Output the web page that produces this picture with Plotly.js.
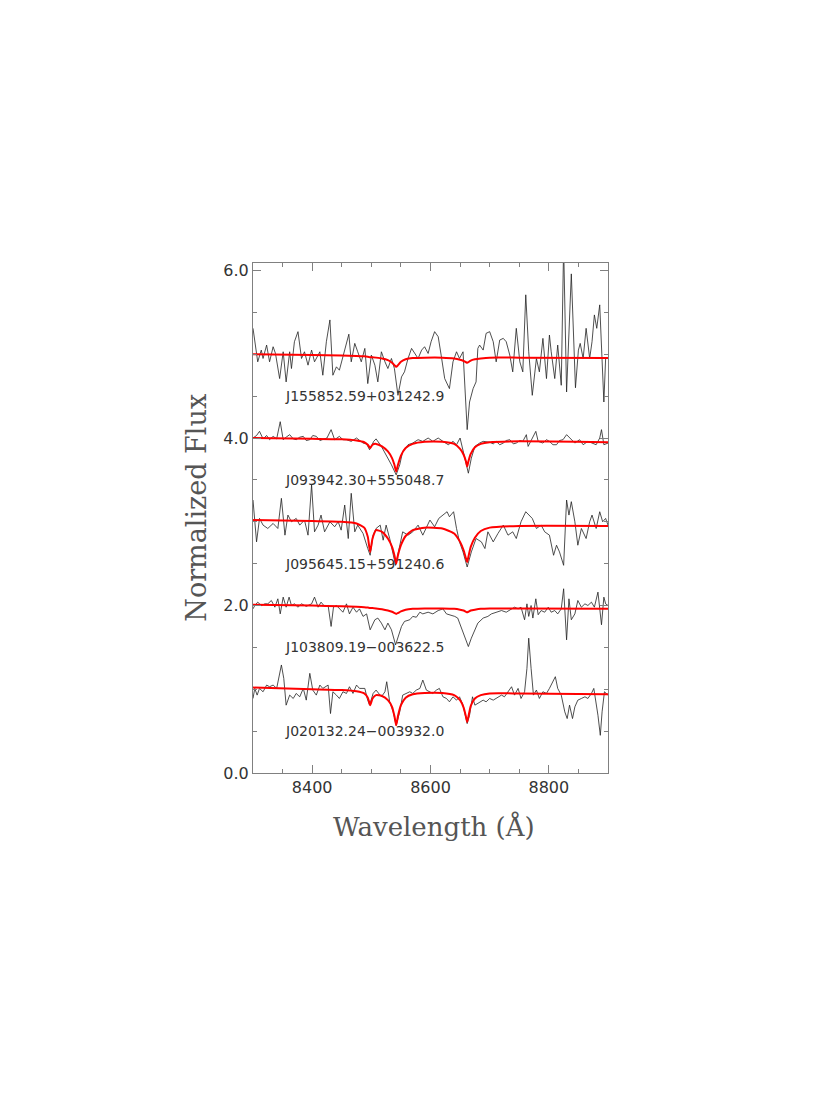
<!DOCTYPE html>
<html>
<head>
<meta charset="utf-8">
<script src="https://cdn.plot.ly/plotly-3.0.1.min.js"></script>
<style>
  html, body { margin: 0; padding: 0; background: #fff; }
  #chart { width: 830px; height: 1106px; }
</style>
</head>
<body>
<div id="chart"></div>
<script>
// ---------- DATA ----------
const starNames = [
  "J155852.59+031242.9",
  "J093942.30+555048.7",
  "J095645.15+591240.6",
  "J103809.19\u2212003622.5",
  "J020132.24\u2212003932.0"
];
const offsets = [5, 4, 3, 2, 1];

// observed spectra (wavelength in Å, normalized flux + offset)
const wave1 = [8300,8303,8308,8314,8317,8323,8328,8334,8338,8345,8351,8356,8362,8365,8370,8376,8382,8387,8393,8399,8404,8413,8418,8424,8430,8435,8441,8446,8452,8458,8462,8466,8472,8477,8483,8489,8494,8500,8506,8511,8517,8523,8528,8534,8539,8545,8551,8556,8562,8568,8573,8579,8585,8590,8596,8601,8607,8613,8618,8624,8632,8638,8644,8649,8655,8662,8666,8672,8677,8680,8683,8689,8694,8700,8706,8711,8717,8723,8728,8734,8739,8745,8751,8756,8761,8766,8772,8779,8784,8790,8796,8801,8804,8810,8815,8821,8825,8830,8838,8845,8850,8853,8858,8863,8869,8873,8877,8881,8886,8889,8893,8896,8900];
const flux1 = [5.31,5.15,4.91,5.05,4.95,5.11,4.91,5.09,5.01,4.71,5.03,4.67,5.03,4.83,5.15,5.27,4.95,5.03,4.87,5.05,4.91,5.03,4.75,5.15,5.41,4.75,4.85,4.81,4.97,5.11,5.24,4.91,5.13,5.03,4.91,5.07,4.65,4.99,4.87,4.67,5.03,4.91,4.83,4.95,4.83,4.51,4.73,4.79,4.95,5.07,5.01,4.95,5.05,5.09,5.01,5.15,5.27,5.21,4.99,4.71,4.59,4.91,5.03,4.95,5.03,4.10,4.43,4.59,4.67,5.07,5.11,5.05,5.25,5.27,5.15,4.91,5.17,5.19,5.15,4.99,4.79,5.31,4.91,4.79,5.71,5.03,4.51,4.95,4.79,5.19,4.71,5.23,5.03,4.71,5.11,4.63,6.30,4.55,5.96,4.60,5.05,5.13,4.95,5.31,4.95,5.15,5.47,5.31,5.59,5.07,4.43,4.95,4.95];

const wave2 = [8300,8306,8311,8317,8323,8328,8334,8340,8346,8351,8356,8362,8368,8373,8379,8385,8390,8396,8401,8407,8413,8418,8425,8432,8438,8446,8452,8458,8466,8475,8480,8486,8492,8497,8504,8508,8517,8525,8534,8542,8548,8553,8562,8570,8579,8587,8596,8604,8613,8621,8630,8638,8644,8650,8655,8661,8664,8669,8675,8683,8689,8700,8706,8711,8717,8723,8728,8734,8740,8745,8751,8756,8762,8765,8772,8778,8782,8790,8796,8801,8807,8813,8818,8824,8830,8835,8844,8852,8858,8866,8875,8880,8886,8889,8893,8900];
const flux2 = [4.00,4.03,4.08,3.99,4.03,3.98,4.02,3.99,4.195,3.98,4.01,4.04,3.99,3.98,4.01,4.02,3.97,3.98,4.03,4.02,3.97,3.98,4.00,4.10,3.98,4.02,3.98,3.98,3.96,4.00,3.97,3.94,3.93,3.86,3.96,3.99,3.90,3.80,3.68,3.56,3.68,3.84,3.92,3.94,3.98,3.96,4.00,3.96,4.00,3.96,3.92,3.96,3.92,4.00,3.84,3.68,3.58,3.76,3.90,3.94,3.96,3.95,3.93,3.96,3.92,3.94,3.97,3.98,3.93,3.94,3.97,3.96,4.04,3.90,4.00,4.08,3.96,3.94,3.98,3.96,3.92,3.92,3.97,3.98,4.04,4.00,3.94,3.98,3.92,3.96,3.94,3.92,4.00,4.10,3.92,3.94];

const wave3 = [8300,8306,8311,8317,8325,8334,8342,8348,8354,8359,8365,8373,8379,8387,8393,8399,8404,8410,8415,8421,8430,8438,8444,8449,8455,8461,8466,8472,8477,8486,8494,8498,8503,8508,8515,8520,8525,8531,8541,8548,8553,8562,8570,8579,8587,8599,8607,8614,8621,8628,8632,8639,8644,8649,8655,8662,8669,8677,8686,8692,8697,8706,8714,8723,8731,8739,8745,8753,8761,8766,8772,8779,8787,8793,8801,8808,8813,8818,8825,8830,8834,8838,8844,8849,8855,8863,8869,8873,8880,8886,8891,8896,8900];
const flux3 = [3.26,2.76,3.04,2.96,2.92,2.98,2.92,3.28,2.84,3.08,3.00,3.04,2.96,3.02,2.84,3.44,2.88,2.96,3.08,2.88,3.00,2.94,3.00,2.90,3.20,2.80,3.34,2.88,2.96,2.86,2.68,2.60,2.84,2.92,2.96,2.78,2.96,2.80,2.48,2.72,2.88,2.84,2.88,2.96,2.84,3.02,2.94,3.04,3.08,3.12,3.06,3.12,2.92,2.76,2.64,2.46,2.64,2.80,2.76,2.68,2.88,2.76,2.86,2.96,2.84,2.88,2.80,3.00,3.12,3.08,3.04,2.92,2.96,2.88,2.84,2.60,2.72,2.64,2.48,3.26,3.08,3.24,3.00,2.72,2.92,2.80,3.00,3.08,2.92,3.12,3.00,3.04,2.96];

const wave4 = [8300,8303,8308,8314,8320,8325,8331,8337,8342,8346,8351,8356,8361,8365,8370,8376,8382,8390,8399,8404,8410,8415,8421,8427,8432,8436,8441,8446,8452,8458,8463,8469,8475,8480,8486,8492,8498,8506,8511,8517,8523,8528,8534,8541,8545,8551,8556,8565,8570,8576,8582,8587,8596,8604,8613,8621,8627,8632,8641,8646,8653,8659,8664,8669,8675,8680,8689,8697,8703,8711,8720,8728,8737,8742,8748,8753,8759,8763,8766,8770,8773,8778,8782,8787,8793,8799,8804,8810,8815,8821,8825,8830,8834,8838,8844,8849,8855,8861,8866,8872,8877,8883,8889,8893,8896,8900];
const flux4 = [1.96,2.00,2.04,2.00,2.02,2.02,2.06,1.98,2.08,1.90,2.10,1.98,2.10,2.00,2.02,1.98,2.02,1.99,2.02,2.10,1.98,2.04,1.99,2.00,1.75,1.98,2.00,1.96,1.92,2.02,1.90,1.98,1.92,1.96,1.87,1.90,1.71,1.83,1.85,1.79,1.71,1.79,1.71,1.53,1.63,1.75,1.81,1.83,1.87,1.86,1.92,1.90,1.92,1.90,1.94,1.96,1.90,1.89,1.87,1.85,1.71,1.59,1.51,1.61,1.71,1.79,1.85,1.87,1.90,1.92,1.94,1.92,1.96,1.98,1.96,1.98,1.83,2.02,1.87,2.00,1.85,2.08,1.89,1.94,1.92,1.98,1.92,1.94,1.90,1.96,2.20,1.59,2.08,1.83,1.90,2.06,1.98,2.02,2.00,2.04,1.98,2.16,1.77,2.10,2.02,2.00];

const wave5 = [8300,8303,8307,8311,8317,8323,8328,8334,8340,8344,8348,8352,8356,8362,8368,8373,8379,8385,8390,8396,8401,8407,8413,8418,8427,8431,8435,8441,8446,8452,8458,8463,8469,8475,8480,8489,8493,8497,8503,8508,8517,8523,8526,8531,8537,8542,8548,8553,8559,8565,8570,8576,8582,8587,8593,8599,8604,8610,8615,8621,8627,8632,8638,8644,8649,8655,8662,8666,8671,8675,8680,8689,8694,8700,8706,8711,8720,8725,8731,8737,8742,8748,8753,8759,8763,8766,8770,8774,8779,8784,8790,8796,8801,8807,8811,8815,8821,8827,8831,8835,8840,8844,8849,8855,8861,8866,8872,8876,8880,8883,8887,8890,8894,8900];
const flux5 = [0.89,1.01,0.93,1.01,0.97,1.05,1.03,1.05,1.01,1.17,1.29,1.13,0.81,0.93,0.89,0.95,0.91,1.01,0.87,1.19,0.99,0.93,1.05,1.01,1.05,0.71,0.97,0.93,0.89,0.97,0.95,1.03,0.95,1.05,1.01,1.01,0.89,0.81,0.95,0.99,0.91,0.97,1.09,0.85,0.73,0.57,0.73,0.93,0.95,0.97,0.95,0.99,1.01,1.11,0.99,0.97,0.95,0.99,1.01,0.91,0.89,0.85,0.91,0.87,0.91,0.81,0.59,0.69,0.91,0.81,0.83,0.87,0.85,0.89,0.87,0.89,0.93,0.91,0.97,1.03,0.93,1.01,0.89,0.97,1.25,1.61,1.25,0.93,0.99,0.89,0.97,0.95,1.01,1.09,1.15,1.01,0.93,0.73,0.65,0.81,0.65,0.79,0.87,0.89,0.91,0.89,0.95,1.01,0.85,0.69,0.45,0.73,0.97,0.93];

// model fits (red)
const modelWave = [8300,8400,8450,8475,8488,8494,8498,8502,8508,8518,8528,8535,8539,8542,8545,8550,8558,8570,8590,8620,8640,8650,8656,8660,8662,8664,8668,8675,8685,8700,8750,8900];
const model1 = [5.00,4.99,4.985,4.98,4.975,4.97,4.965,4.965,4.96,4.95,4.93,4.90,4.87,4.85,4.87,4.91,4.94,4.955,4.96,4.96,4.95,4.935,4.92,4.905,4.90,4.905,4.925,4.94,4.95,4.96,4.96,4.955];
const model2 = [4.00,3.99,3.985,3.97,3.95,3.92,3.88,3.92,3.93,3.90,3.84,3.76,3.68,3.60,3.68,3.79,3.88,3.93,3.955,3.955,3.93,3.87,3.80,3.72,3.66,3.72,3.81,3.89,3.93,3.95,3.96,3.95];
const model3 = [3.02,3.01,3.00,2.98,2.93,2.82,2.64,2.80,2.90,2.88,2.80,2.70,2.60,2.50,2.60,2.72,2.83,2.90,2.93,2.92,2.86,2.76,2.66,2.56,2.52,2.58,2.70,2.81,2.89,2.93,2.95,2.95];
const model4 = [2.01,2.00,1.99,1.985,1.98,1.975,1.97,1.97,1.965,1.955,1.94,1.925,1.91,1.90,1.91,1.93,1.95,1.96,1.965,1.965,1.96,1.95,1.94,1.925,1.92,1.925,1.94,1.95,1.96,1.965,1.965,1.96];
const model5 = [1.02,1.00,0.99,0.975,0.95,0.90,0.81,0.89,0.93,0.92,0.87,0.79,0.68,0.57,0.68,0.81,0.90,0.94,0.955,0.955,0.93,0.87,0.78,0.67,0.61,0.67,0.80,0.89,0.93,0.95,0.95,0.94];

const xTickVals = [8400, 8600, 8800];
const yTickVals = [0, 2, 4, 6];

// ---------- PLOT ----------
const waves = [wave1, wave2, wave3, wave4, wave5];
const fluxes = [flux1, flux2, flux3, flux4, flux5];
const models = [model1, model2, model3, model4, model5];

const traces = [];
for (let i = 0; i < 5; i++) {
  traces.push({
    x: waves[i], y: fluxes[i], type: 'scatter', mode: 'lines',
    line: { color: '#222222', width: 0.8 }, hoverinfo: 'skip', showlegend: false
  });
}
for (let i = 0; i < 5; i++) {
  traces.push({
    x: modelWave, y: models[i], type: 'scatter', mode: 'lines',
    line: { color: '#ff0000', width: 2, shape: 'spline', smoothing: 0.5 },
    hoverinfo: 'skip', showlegend: false
  });
}

const annotations = starNames.map((name, i) => ({
  x: 8350, y: offsets[i] - 0.5, xref: 'x', yref: 'y',
  text: name, showarrow: false, xanchor: 'left', yanchor: 'middle',
  font: { family: 'DejaVu Sans', size: 14, color: '#333' }
}));
annotations.push({
  x: 0.51, y: -0.105, xref: 'paper', yref: 'paper',
  text: 'Wavelength (\u00C5)', showarrow: false, xanchor: 'center', yanchor: 'middle',
  font: { family: 'DejaVu Serif', size: 26, color: '#555' }
});
annotations.push({
  x: -0.158, y: 0.52, xref: 'paper', yref: 'paper',
  text: 'Normalized Flux', showarrow: false, textangle: -90,
  xanchor: 'center', yanchor: 'middle',
  font: { family: 'DejaVu Serif', size: 27, color: '#555' }
});

const axisCommon = {
  showgrid: false, zeroline: false, showline: true, linecolor: '#808080', linewidth: 1,
  mirror: 'allticks', ticks: 'inside', tickcolor: '#808080', tickwidth: 1, ticklen: 8,
  tickfont: { family: 'DejaVu Sans', size: 16, color: '#333' }
};

const layout = {
  width: 830, height: 1106,
  margin: { l: 253, r: 222, t: 263, b: 333 },
  paper_bgcolor: '#ffffff', plot_bgcolor: '#ffffff',
  xaxis: Object.assign({}, axisCommon, {
    range: [8300, 8900], tickvals: xTickVals, ticktext: xTickVals.map(String),
    minor: { dtick: 50, tick0: 8300, ticks: 'inside', ticklen: 4, tickcolor: '#808080', showgrid: false }
  }),
  yaxis: Object.assign({}, axisCommon, {
    range: [0, 6.09], tickvals: yTickVals, ticktext: yTickVals.map(v => v.toFixed(1)),
    minor: { dtick: 0.5, tick0: 0, ticks: 'inside', ticklen: 4, tickcolor: '#808080', showgrid: false }
  }),
  annotations: annotations
};

Plotly.newPlot('chart', traces, layout, { staticPlot: true, displayModeBar: false });
</script>
</body>
</html>
